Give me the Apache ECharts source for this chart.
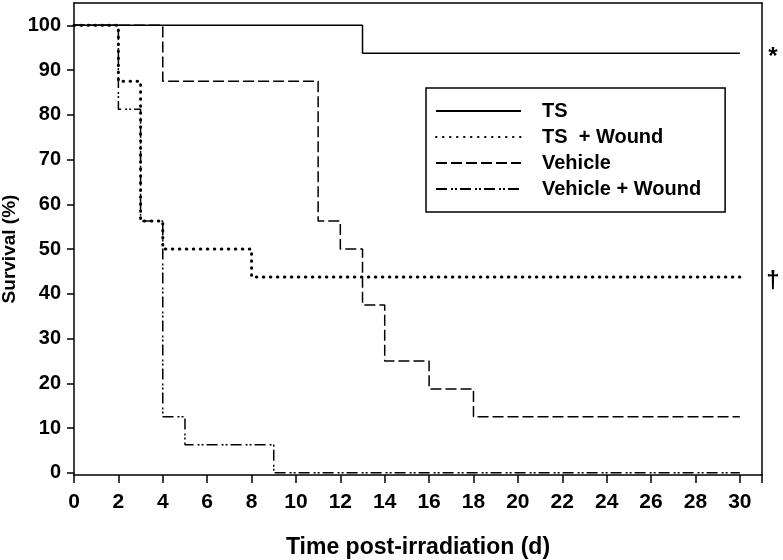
<!DOCTYPE html>
<html>
<head>
<meta charset="utf-8">
<script src="https://cdn.jsdelivr.net/npm/echarts@6/dist/echarts.min.js"></script>
<style>html,body{margin:0;padding:0;background:#fff}#c{width:783px;height:560px}</style>
</head>
<body>
<div id="c"></div>
<script>
// ---- data ----
const tsTime = [0, 13, 30];
const tsSurv = [100, 93.75, 93.75];
const tswTime = [0, 2, 3, 4, 8, 30];
const tswSurv = [100, 87.5, 56.25, 50, 43.75, 43.75];
const vehTime = [0, 4, 11, 12, 13, 14, 16, 18, 30];
const vehSurv = [100, 87.5, 56.25, 50, 37.5, 25, 18.75, 12.5, 12.5];
const vwTime = [0, 2, 3, 4, 5, 9, 30];
const vwSurv = [100, 81.25, 56.25, 12.5, 6.25, 0, 0];
const seriesNames = ['TS', 'TS  + Wound', 'Vehicle', 'Vehicle + Wound'];
const yTicks = [0, 10, 20, 30, 40, 50, 60, 70, 80, 90, 100];
const xTicks = [0, 2, 4, 6, 8, 10, 12, 14, 16, 18, 20, 22, 24, 26, 28, 30];
const annotations = [{ text: '*', y: 93.75 }, { text: '†', y: 43.75 }];

const pairs = (t, s) => t.map((x, i) => [x, s[i]]);
const FONT = "'Liberation Sans', Arial, sans-serif";

const chart = echarts.init(document.getElementById('c'), null, { renderer: 'canvas' });
const axisLine = { show: true, onZero: false, lineStyle: { color: '#000', width: 1.5 } };

chart.setOption({
  animation: false,
  backgroundColor: '#fff',
  grid: { left: 74, right: 21, top: 3, bottom: 85, containLabel: false, outerBoundsMode: 'none' },
  xAxis: [{
    type: 'value', min: 0, max: 31, interval: 2,
    axisLine: axisLine,
    axisTick: { show: true, length: 8, lineStyle: { color: '#000', width: 1.5 }, customValues: xTicks.concat([31]) },
    axisLabel: { customValues: xTicks, margin: 17, color: '#000', fontFamily: FONT, fontWeight: 'bold', fontSize: 21 },
    splitLine: { show: false },
    name: 'Time post-irradiation (d)', nameLocation: 'middle', nameGap: 61, nameMoveOverlap: false,
    nameTextStyle: { color: '#000', fontFamily: FONT, fontWeight: 'bold', fontSize: 23 }
  }, {
    type: 'value', position: 'top', min: 0, max: 31,
    axisLine: axisLine, axisTick: { show: false }, axisLabel: { show: false }, splitLine: { show: false }
  }],
  yAxis: [{
    type: 'value', min: -0.5, max: 105,
    axisLine: axisLine,
    axisTick: { show: true, length: 7, lineStyle: { color: '#000', width: 1.5 }, customValues: yTicks },
    axisLabel: { customValues: yTicks, margin: 13, color: '#000', fontFamily: FONT, fontWeight: 'bold', fontSize: 20 },
    splitLine: { show: false },
    name: 'Survival (%)', nameLocation: 'middle', nameGap: 55, nameRotate: 90, nameMoveOverlap: false,
    nameTextStyle: { color: '#000', fontFamily: FONT, fontWeight: 'bold', fontSize: 19, padding: [0, 20, 0, 0] }
  }, {
    type: 'value', position: 'right', min: -0.5, max: 105,
    axisLine: axisLine, axisTick: { show: false }, axisLabel: { show: false }, splitLine: { show: false }
  }],
  legend: {
    orient: 'vertical', left: 426, top: 88,
    data: seriesNames,
    itemWidth: 85, itemHeight: 20, itemGap: 6,
    padding: [13, 24, 13, 9],
    borderColor: '#000', borderWidth: 1.5, backgroundColor: '#fff',
    itemStyle: { color: 'rgba(0,0,0,0)', borderWidth: 0, opacity: 0 },
    textStyle: { color: '#000', fontFamily: FONT, fontWeight: 'bold', fontSize: 20, padding: [0, 0, 0, 16] }
  },
  series: [
    { name: seriesNames[3], type: 'line', step: 'end', symbol: 'none', data: pairs(vwTime, vwSurv),
      lineStyle: { color: '#000', width: 1.5, type: [11, 4, 2, 2, 2, 3] }, itemStyle: { color: '#000' }, z: 2 },
    { name: seriesNames[2], type: 'line', step: 'end', symbol: 'none', data: pairs(vehTime, vehSurv),
      lineStyle: { color: '#000', width: 1.5, type: [11, 4] }, itemStyle: { color: '#000' }, z: 3 },
    { name: seriesNames[0], type: 'line', step: 'end', symbol: 'none', data: pairs(tsTime, tsSurv),
      lineStyle: { color: '#000', width: 1.5, type: 'solid' }, itemStyle: { color: '#000' }, z: 4 },
    { name: seriesNames[1], type: 'line', step: 'end', symbol: 'none', data: pairs(tswTime, tswSurv),
      lineStyle: { color: '#000', width: 3, type: [0.5, 6.5], cap: 'round' }, itemStyle: { color: '#000' }, z: 5 }
  ]
});

// significance marks at the right of the frame, placed at their survival level
const gx = chart.convertToPixel({ xAxisIndex: 0 }, 31);
chart.setOption({
  graphic: annotations.map(a => ({
    type: 'text',
    x: gx + 11,
    y: chart.convertToPixel({ yAxisIndex: 0 }, a.y) + 4,
    style: { text: a.text, fill: '#000', font: 'bold 24px ' + FONT, textAlign: 'center', textVerticalAlign: 'middle' }
  }))
});
</script>
</body>
</html>
